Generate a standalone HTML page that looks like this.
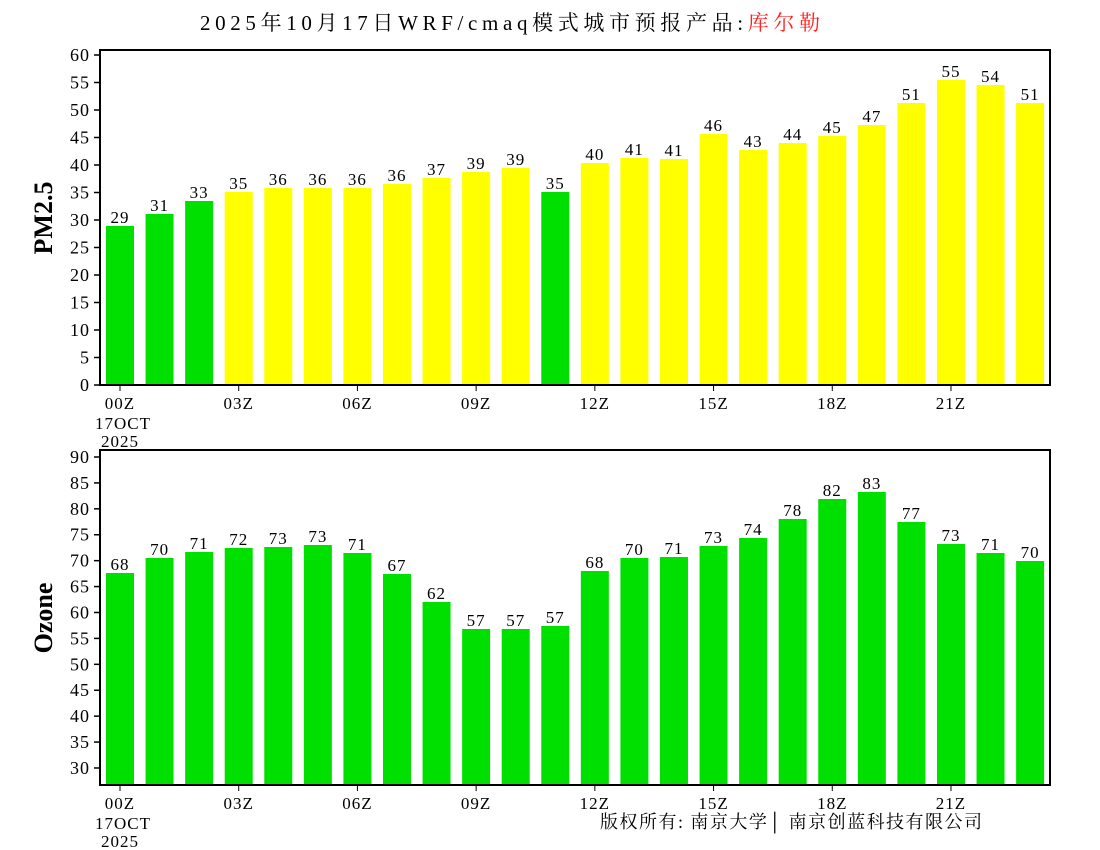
<!DOCTYPE html>
<html><head><meta charset="utf-8"><style>body{margin:0;background:#fff}svg{display:block}</style></head><body>
<svg id="s" width="1100" height="850" xmlns="http://www.w3.org/2000/svg" font-family="'Liberation Serif','Noto Serif CJK SC',serif">
<text x="200" y="30" font-size="21" fill="#000" textLength="620" lengthAdjust="spacing">2025年10月17日WRF/cmaq模式城市预报产品:<tspan fill="#ff2020">库尔勒</tspan></text>
<text transform="translate(52,218) rotate(-90)" font-size="26" font-weight="bold" text-anchor="middle">PM2.5</text>
<text transform="translate(52,618) rotate(-90)" font-size="26" font-weight="bold" text-anchor="middle">Ozone</text>
<text x="600" y="828" font-size="18" textLength="382" lengthAdjust="spacing">版权所有: 南京大学│ 南京创蓝科技有限公司</text>
</svg>
<script>
var s=document.getElementById('s'),NS='http://www.w3.org/2000/svg';
function el(t,a,txt){var e=document.createElementNS(NS,t);for(var k in a)e.setAttribute(k,a[k]);if(txt!=null)e.textContent=txt;s.appendChild(e);return e;}
function panel(top,bot,ticks,tyf,vals,tops,cols){
 for(var i=0;i<24;i++){var cx=120+i*39.57;el('rect',{x:cx-14,y:tops[i],width:28,height:bot-tops[i],fill:cols[i]});
  el('text',{x:cx,y:tops[i]-3,'font-size':17,'text-anchor':'middle','letter-spacing':1},vals[i]);}
 el('rect',{x:100,y:top,width:950,height:bot-top,fill:'none',stroke:'#000','stroke-width':2});
 ticks.forEach(function(v){var y=tyf(v);el('line',{x1:94,x2:100,y1:y,y2:y,stroke:'#000','stroke-width':1.5});el('text',{x:90,y:y+6,'font-size':18,'text-anchor':'end','letter-spacing':1},v);});
 var lab=['00Z','03Z','06Z','09Z','12Z','15Z','18Z','21Z'];
 for(var j=0;j<8;j++){var x=120+j*3*39.57;el('line',{x1:x,x2:x,y1:bot,y2:bot+6,stroke:'#000'});el('text',{x:x,y:bot+24,'font-size':17,'text-anchor':'middle','letter-spacing':1},lab[j]);}
 el('text',{x:123,y:bot+44,'font-size':17,'text-anchor':'middle','letter-spacing':1},'17OCT');
 el('text',{x:120,y:bot+62,'font-size':17,'text-anchor':'middle','letter-spacing':1},'2025');
}
var G='#00e000',Y='#ffff00';
var c1=[];for(var i=0;i<24;i++)c1.push((i<3||i==11)?G:Y);
var t1=[];for(var v=0;v<=60;v+=5)t1.push(v);
panel(50,385,t1,function(v){return 385-v*5.5;},
[29,31,33,35,36,36,36,36,37,39,39,35,40,41,41,46,43,44,45,47,51,55,54,51],
[226,214,201,192,188,188,188,184,178,172,168,192,163,158,159,134,150,143,136,125,103,80,85,103],c1);
var c2=[];for(var i=0;i<24;i++)c2.push(G);
var t2=[];for(var v=30;v<=90;v+=5)t2.push(v);
panel(450,785,t2,function(v){return 457-(v-90)*5.183;},
[68,70,71,72,73,73,71,67,62,57,57,57,68,70,71,73,74,78,82,83,77,73,71,70],
[573,558,552,548,547,545,553,574,602,629,629,626,571,558,557,546,538,519,499,492,522,544,553,561],c2);
</script>
</body></html>
